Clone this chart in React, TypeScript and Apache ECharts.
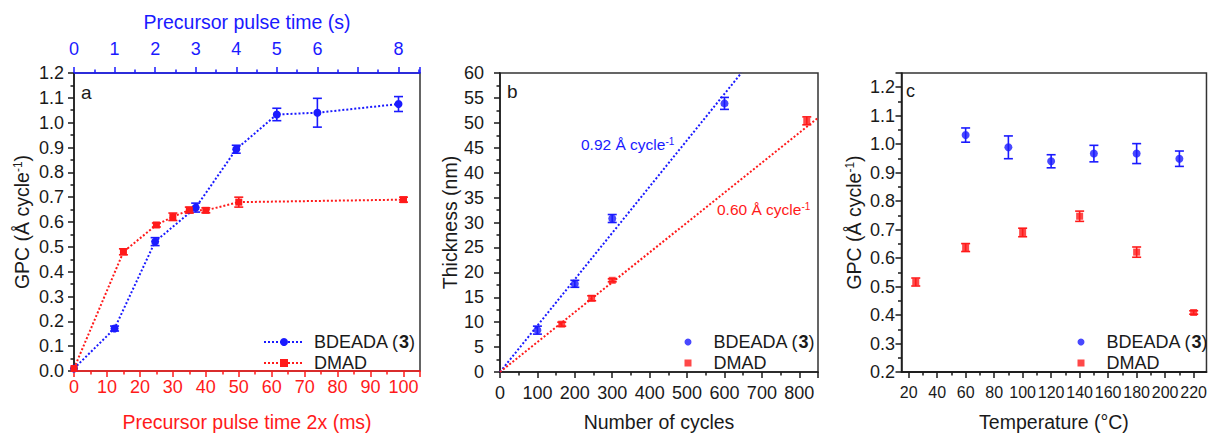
import React, { useEffect, useRef } from 'react';
import * as echarts from 'echarts';

const BLUE = '#1a1aff';
const RED = '#ff1a1a';
const INK = '#1a1a1a';
const FONT = '"Liberation Sans", Arial, sans-serif';

// ---------- Panel a ----------
const pulseSeconds = [0, 1, 2, 3, 4, 5, 6, 8];
const bdeadaGpcA = [0.01, 0.171, 0.521, 0.658, 0.893, 1.033, 1.04, 1.075];
const bdeadaErrA = [0, 0.01, 0.016, 0.018, 0.016, 0.025, 0.058, 0.03];
const pulseMs = [0, 15, 25, 30, 35, 40, 50, 100];
const dmadGpcA = [0.01, 0.48, 0.588, 0.621, 0.648, 0.647, 0.68, 0.69];
const dmadErrA = [0, 0.012, 0.008, 0.015, 0.012, 0.01, 0.02, 0.01];

// ---------- Panel b ----------
const cyclesBdeada = [100, 200, 300, 600];
const thicknessBdeada = [8.4, 17.7, 30.8, 53.9];
const thicknessBdeadaErr = [0.8, 0.7, 0.8, 1.2];
const cyclesDmad = [165, 245, 300, 820];
const thicknessDmad = [9.6, 14.8, 18.4, 50.4];
const thicknessDmadErr = [0.4, 0.5, 0.3, 0.8];
const fitBdeada = [[0, 0], [645, 60]];
const fitDmad = [[0, 0], [850, 51]];

// ---------- Panel c ----------
const tempBdeada = [60, 90, 120, 150, 180, 210];
const gpcBdeadaC = [1.032, 0.989, 0.94, 0.967, 0.967, 0.949];
const gpcBdeadaErrC = [0.025, 0.04, 0.023, 0.029, 0.035, 0.027];
const tempDmad = [25, 60, 100, 140, 180, 220];
const gpcDmadC = [0.516, 0.637, 0.69, 0.747, 0.621, 0.409];
const gpcDmadErrC = [0.014, 0.014, 0.015, 0.018, 0.018, 0.006];
const tempTicks = [20, 40, 60, 80, 100, 120, 140, 160, 180, 200, 220];
const tempMinorTicks = [30, 50, 70, 90, 110, 130, 150, 170, 190, 210];

const supRich = (color: string, size = 12) => ({
  sup: { fontSize: size, verticalAlign: 'top', color, fontFamily: FONT, lineHeight: size },
});

function axis(opts: any) {
  const color = opts.color || INK;
  return {
    type: 'value',
    gridIndex: opts.grid,
    position: opts.position,
    min: opts.min,
    max: opts.max,
    interval: opts.interval,
    name: opts.name,
    nameLocation: 'middle',
    nameGap: opts.nameGap,
    nameTextStyle: { color, fontSize: 19.5, fontFamily: FONT, rich: supRich(color) },
    axisLine: { show: true, onZero: false, lineStyle: { color, width: 1.5 } },
    axisTick: {
      show: opts.tickShow !== false,
      length: opts.tickLength || 6,
      lineStyle: { color, width: 1.5 },
      ...(opts.tickValues ? { customValues: opts.tickValues } : {}),
    },
    minorTick: {
      show: opts.minor !== false,
      splitNumber: 2,
      length: 3.5,
      lineStyle: { color, width: 1.5 },
    },
    splitLine: { show: false },
    minorSplitLine: { show: false },
    axisLabel: {
      show: opts.labelShow !== false,
      color,
      fontSize: opts.labelSize || 18,
      fontFamily: FONT,
      margin: opts.margin,
      showMaxLabel: opts.showMaxLabel,
      formatter: opts.formatter,
      ...(opts.labelValues ? { customValues: opts.labelValues } : {}),
    },
  };
}

function errorBars(xAxisIndex: number, yAxisIndex: number, xs: number[], ys: number[], errs: number[], color: string) {
  return {
    type: 'custom',
    name: 'err',
    xAxisIndex,
    yAxisIndex,
    z: 2,
    silent: true,
    data: xs.map((x, i) => [x, ys[i], errs[i]]),
    encode: { x: 0, y: 1 },
    renderItem: (_p: any, api: any) => {
      const x = api.value(0);
      const y = api.value(1);
      const e = api.value(2);
      if (!e) return { type: 'group', children: [] };
      const a = api.coord([x, y + e]);
      const b = api.coord([x, y - e]);
      const hw = 4.5;
      const style = { stroke: color, lineWidth: 1.6 };
      return {
        type: 'group',
        children: [
          { type: 'line', shape: { x1: a[0], y1: a[1], x2: b[0], y2: b[1] }, style },
          { type: 'line', shape: { x1: a[0] - hw, y1: a[1], x2: a[0] + hw, y2: a[1] }, style },
          { type: 'line', shape: { x1: b[0] - hw, y1: b[1], x2: b[0] + hw, y2: b[1] }, style },
        ],
      };
    },
  };
}

const zip = (xs: number[], ys: number[]) => xs.map((x, i) => [x, ys[i]]);

const legendText = (gap: number) => ({
  color: INK,
  fontSize: 18,
  fontFamily: FONT,
  rich: {
    b: { fontWeight: 'bold', fontSize: 18, color: INK, fontFamily: FONT },
    g: { width: gap, fontSize: 18 },
  },
});
const legendFmt = (name: string) => (name.endsWith('B') ? '{g| }BDEADA ({b|3})' : '{g| }DMAD');

export default function App() {
  const ref = useRef<HTMLDivElement>(null);
  useEffect(() => {
    if (!ref.current) return;
    const chart = echarts.init(ref.current, undefined, { renderer: 'svg' });
    const option: any = {
      animation: false,
      backgroundColor: '#ffffff',
      textStyle: { fontFamily: FONT },
      grid: [
        { left: 74, top: 73, width: 346, height: 304.5, show: true, borderColor: '#333', borderWidth: 1.5, backgroundColor: 'transparent' },
        { left: 500, top: 73, width: 318, height: 304.5, show: true, borderColor: '#333', borderWidth: 1.5, backgroundColor: 'transparent' },
        { left: 901.5, top: 73, width: 307.5, height: 304.5, show: true, borderColor: '#333', borderWidth: 1.5, backgroundColor: 'transparent' },
      ],
      xAxis: [
        axis({ grid: 0, position: 'bottom', color: RED, min: 0, max: 105, interval: 10, name: 'Precursor pulse time 2x (ms)', nameGap: 41, margin: 7, showMaxLabel: false }),
        axis({ grid: 0, position: 'top', color: BLUE, min: 0, max: 8.53, interval: 1, name: 'Precursor pulse time (s)', nameGap: 41, margin: 15, showMaxLabel: false, formatter: (v: number) => (v === 7 ? '' : String(v)) }),
        axis({ grid: 1, position: 'bottom', min: 0, max: 850, interval: 100, name: 'Number of cycles', nameGap: 40, margin: 12, showMaxLabel: false }),
        axis({ grid: 2, position: 'bottom', min: 15, max: 229, name: 'Temperature (°C)', nameGap: 40, margin: 12, minor: false, tickValues: tempTicks, labelValues: tempTicks, labelSize: 16 }),
        axis({ grid: 2, position: 'bottom', min: 15, max: 229, minor: false, tickValues: tempMinorTicks, tickLength: 3.5, labelShow: false }),
      ],
      yAxis: [
        axis({ grid: 0, position: 'left', min: 0, max: 1.2, interval: 0.1, name: 'GPC (Å cycle{sup|-1})', nameGap: 42, margin: 10, formatter: (v: number) => v.toFixed(1) }),
        axis({ grid: 1, position: 'left', min: 0, max: 60, interval: 5, name: 'Thickness (nm)', nameGap: 36, margin: 16 }),
        axis({ grid: 2, position: 'left', min: 0.2, max: 1.25, interval: 0.1, name: 'GPC (Å cycle{sup|-1})', nameGap: 38, margin: 6.5, showMaxLabel: false, formatter: (v: number) => v.toFixed(1) }),
      ],
      legend: [
        {
          left: 263, top: 333, padding: 0, orient: 'vertical', itemWidth: 40, itemHeight: 10, itemGap: 3,
          selectedMode: false, data: ['aB', 'aD'], formatter: legendFmt, textStyle: legendText(5),
        },
        {
          left: 684.5, top: 333, padding: 0, orient: 'vertical', itemWidth: 7, itemHeight: 7, itemGap: 3,
          selectedMode: false, data: [{ name: 'bB', icon: 'circle' }, { name: 'bD', icon: 'rect' }],
          formatter: legendFmt, textStyle: legendText(17),
        },
        {
          left: 1077.5, top: 333, padding: 0, orient: 'vertical', itemWidth: 7, itemHeight: 7, itemGap: 3,
          selectedMode: false, data: [{ name: 'cB', icon: 'circle' }, { name: 'cD', icon: 'rect' }],
          formatter: legendFmt, textStyle: legendText(17),
        },
      ],
      graphic: [
        { type: 'text', x: 81, y: 92, style: { text: 'a', fontSize: 19, fontFamily: FONT, fill: INK, verticalAlign: 'middle' } },
        { type: 'text', x: 507, y: 91, style: { text: 'b', fontSize: 19, fontFamily: FONT, fill: INK, verticalAlign: 'middle' } },
        { type: 'text', x: 906, y: 91, style: { text: 'c', fontSize: 18, fontFamily: FONT, fill: INK, verticalAlign: 'middle' } },
        {
          type: 'text', x: 581, y: 144,
          style: { text: '0.92 Å cycle{sup|-1}', fontSize: 15.5, fontFamily: FONT, fill: BLUE, verticalAlign: 'middle', rich: supRich(BLUE, 10) },
        },
        {
          type: 'text', x: 717, y: 209,
          style: { text: '0.60 Å cycle{sup|-1}', fontSize: 15.5, fontFamily: FONT, fill: RED, verticalAlign: 'middle', rich: supRich(RED, 10) },
        },
      ],
      series: [
        // panel a
        errorBars(1, 0, pulseSeconds, bdeadaGpcA, bdeadaErrA, BLUE),
        errorBars(0, 0, pulseMs, dmadGpcA, dmadErrA, RED),
        {
          type: 'line', name: 'aB', xAxisIndex: 1, yAxisIndex: 0, z: 3,
          data: zip(pulseSeconds, bdeadaGpcA),
          symbol: 'circle', symbolSize: 8, itemStyle: { color: BLUE },
          lineStyle: { color: BLUE, width: 2, type: 'dotted' },
        },
        {
          type: 'line', name: 'aD', xAxisIndex: 0, yAxisIndex: 0, z: 3,
          data: zip(pulseMs, dmadGpcA),
          symbol: 'rect', symbolSize: 7, itemStyle: { color: RED },
          lineStyle: { color: RED, width: 2, type: 'dotted' },
        },
        // panel b
        {
          type: 'line', name: 'fitB', xAxisIndex: 2, yAxisIndex: 1, z: 1, data: fitBdeada,
          showSymbol: false, symbol: 'none', lineStyle: { color: BLUE, width: 2, type: 'dotted' }, clip: true,
        },
        {
          type: 'line', name: 'fitD', xAxisIndex: 2, yAxisIndex: 1, z: 1, data: fitDmad,
          showSymbol: false, symbol: 'none', lineStyle: { color: RED, width: 2, type: 'dotted' }, clip: true,
        },
        errorBars(2, 1, cyclesBdeada, thicknessBdeada, thicknessBdeadaErr, BLUE),
        errorBars(2, 1, cyclesDmad, thicknessDmad, thicknessDmadErr, RED),
        {
          type: 'scatter', name: 'bB', xAxisIndex: 2, yAxisIndex: 1, z: 3,
          data: zip(cyclesBdeada, thicknessBdeada), symbol: 'circle', symbolSize: 8, itemStyle: { color: BLUE },
        },
        {
          type: 'scatter', name: 'bD', xAxisIndex: 2, yAxisIndex: 1, z: 3,
          data: zip(cyclesDmad, thicknessDmad), symbol: 'rect', symbolSize: 7, itemStyle: { color: RED },
        },
        // panel c
        errorBars(3, 2, tempBdeada, gpcBdeadaC, gpcBdeadaErrC, BLUE),
        errorBars(3, 2, tempDmad, gpcDmadC, gpcDmadErrC, RED),
        {
          type: 'scatter', name: 'cB', xAxisIndex: 3, yAxisIndex: 2, z: 3,
          data: zip(tempBdeada, gpcBdeadaC), symbol: 'circle', symbolSize: 8, itemStyle: { color: BLUE },
        },
        {
          type: 'scatter', name: 'cD', xAxisIndex: 3, yAxisIndex: 2, z: 3,
          data: zip(tempDmad, gpcDmadC), symbol: 'rect', symbolSize: 7, itemStyle: { color: RED },
        },
      ],
    };
    chart.setOption(option);
    return () => chart.dispose();
  }, []);
  return <div ref={ref} style={{ position: 'absolute', left: 0, top: 0, width: 1210, height: 437 }} />;
}
